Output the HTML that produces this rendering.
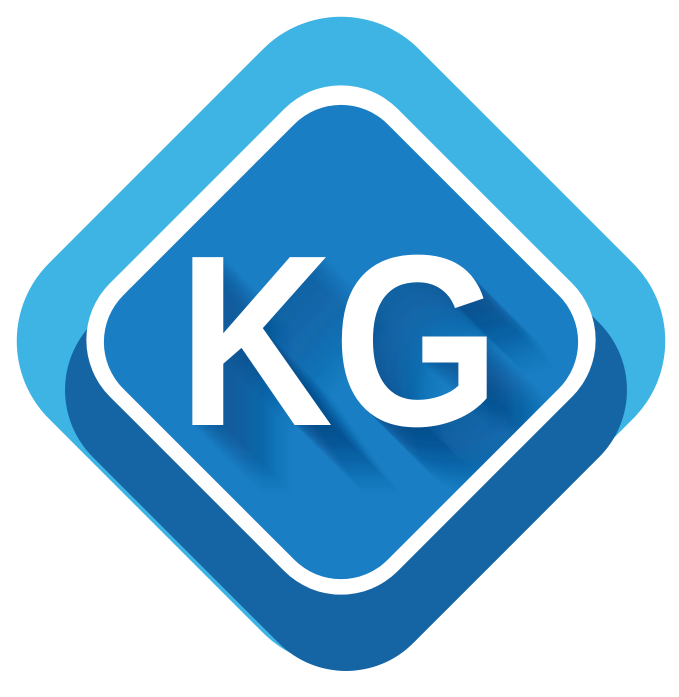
<!DOCTYPE html>
<html><head><meta charset="utf-8"><style>
html,body{margin:0;padding:0;background:#fff;width:679px;height:697px;overflow:hidden}
</style></head><body>
<svg width="679" height="697" viewBox="0 0 679 697" xmlns="http://www.w3.org/2000/svg">
  <defs>
    <clipPath id="innerClip">
      <rect x="-187" y="-187" width="374" height="374" rx="66" transform="translate(341,342) rotate(45)"/>
    </clipPath>
  </defs>
  <rect x="-261.5" y="-261.5" width="523" height="523" rx="110" fill="#3db4e3" transform="translate(341,341) rotate(45)"/>
  <rect x="-226.5" y="-226.5" width="453" height="453" rx="95" fill="#1564a4" transform="translate(346,390) rotate(45)"/>
  <rect x="-203.5" y="-203.5" width="407" height="407" rx="80" fill="#ffffff" transform="translate(341,340) rotate(45)"/>
  <rect x="-187" y="-187" width="374" height="374" rx="66" fill="#1a7ec4" transform="translate(341,342) rotate(45)"/>
  <g id="shadows" clip-path="url(#innerClip)"></g>
  <text x="178" y="425" font-family="Liberation Sans, sans-serif" font-weight="bold" font-size="244" fill="#ffffff" textLength="322" lengthAdjust="spacingAndGlyphs">KG</text>
</svg>
<script>
const g=document.getElementById('shadows');
for(let i=1;i<=70;i+=2){
  const t=document.createElementNS('http://www.w3.org/2000/svg','text');
  
  
  t.setAttribute('x',178+i);t.setAttribute('y',425+i);
  t.setAttribute('font-family','Liberation Sans, sans-serif');
  t.setAttribute('font-weight','bold');t.setAttribute('font-size','244');
  t.setAttribute('textLength','322');t.setAttribute('lengthAdjust','spacingAndGlyphs');
  t.setAttribute('fill','#0d4f8c');t.setAttribute('fill-opacity',String(0.08*(1-i/80)));
  t.textContent='KG';
  g.appendChild(t);
}
</script>
</body></html>
